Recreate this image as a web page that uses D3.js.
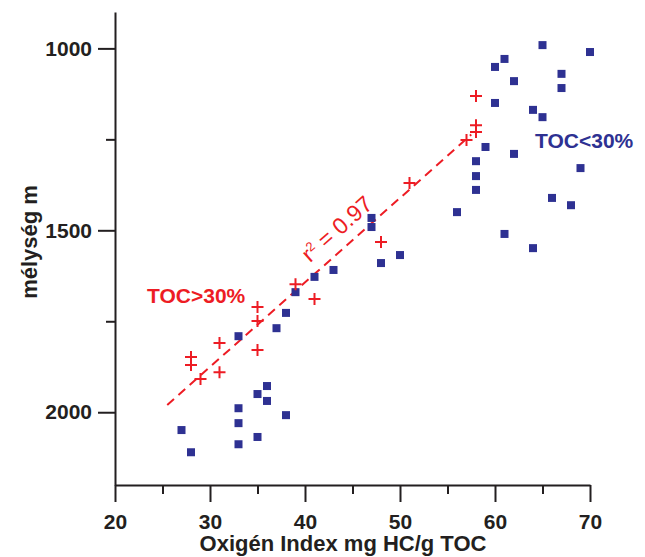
<!DOCTYPE html>
<html>
<head>
<meta charset="utf-8">
<script src="https://cdn.jsdelivr.net/npm/d3@7"></script>
<style>
  body { margin: 0; background: #fff; }
  text { font-family: "Liberation Sans", Arial, sans-serif; }
</style>
</head>
<body>
<div id="my_dataviz"></div>
<script>
// TOC<30% samples (blue squares)
var lowOxi   = [70, 65, 61, 60, 67, 62, 67, 60, 64, 65, 59, 62, 58, 69, 58, 58, 66, 68, 56, 61, 64,
                47, 47, 41, 43, 48, 50, 39, 38, 37, 33,
                36, 35, 36, 33, 38, 33, 27, 35, 33, 28];
var lowDepth = [1010, 991, 1029, 1051, 1070, 1090, 1109, 1150, 1169, 1189, 1271, 1290, 1310, 1329, 1351, 1389, 1411, 1431, 1450, 1510, 1549,
                1466, 1491, 1628, 1609, 1590, 1568, 1670, 1727, 1769, 1791,
                1928, 1950, 1969, 1989, 2008, 2030, 2049, 2068, 2088, 2110];

// TOC>30% samples (red crosses)
var highOxi   = [58, 58, 58, 57, 51, 48, 39, 41, 35, 35, 35, 31, 31, 28, 28, 29];
var highDepth = [1131, 1211, 1230, 1252, 1370, 1532, 1648, 1689, 1711, 1749, 1829, 1810, 1890, 1848, 1870, 1909];

// regression line ends
var fitOxi   = [25.5, 57.5];
var fitDepth = [1980, 1237];

var xMajor = [20, 30, 40, 50, 60, 70];
var xMinor = [25, 35, 45, 55, 65];
var yMajor = [1000, 1500, 2000];
var yMinor = [1250, 1750];

var blue = "#2e3192", red = "#ed1c24", ink = "#231f20";

var W = 645, H = 557;
var plotL = 115, plotR = 590, plotT = 12, plotB = 485;

var svg = d3.select("#my_dataviz")
  .append("svg")
    .attr("width", W)
    .attr("height", H);

var x = d3.scaleLinear().domain([20, 70]).range([plotL, plotR]);
var y = d3.scaleLinear().domain([900, 2200]).range([plotT, plotB]);

// axes
var gx = svg.append("g")
  .attr("transform", "translate(0," + plotB + ")")
  .call(d3.axisBottom(x).tickValues(xMajor).tickSize(17).tickSizeOuter(0).tickPadding(12));
gx.append("g")
  .call(d3.axisBottom(x).tickValues(xMinor).tickSize(9).tickFormat(""))
  .select(".domain").remove();

var gy = svg.append("g")
  .attr("transform", "translate(" + plotL + ",0)")
  .call(d3.axisLeft(y).tickValues(yMajor).tickFormat(d3.format("d")).tickSize(17).tickSizeOuter(0).tickPadding(6));
gy.append("g")
  .call(d3.axisLeft(y).tickValues(yMinor).tickSize(9).tickFormat(""))
  .select(".domain").remove();

svg.selectAll(".domain, .tick line")
  .attr("stroke", ink)
  .attr("stroke-width", 2);
svg.selectAll(".tick text")
  .attr("fill", ink)
  .style("font-size", "21px")
  .style("font-weight", "bold");

// axis titles
svg.append("text")
  .attr("x", 343)
  .attr("y", 551)
  .attr("text-anchor", "middle")
  .attr("fill", ink)
  .style("font-size", "22px")
  .style("font-weight", "bold")
  .text("Oxigén Index mg HC/g TOC");

svg.append("text")
  .attr("transform", "translate(37,242)rotate(-90)")
  .attr("text-anchor", "middle")
  .attr("fill", ink)
  .style("font-size", "22px")
  .style("font-weight", "bold")
  .text("mélység m");

// regression line
var fit = fitOxi.map(function(d, i) { return [d, fitDepth[i]]; });
svg.append("path")
  .datum(fit)
  .attr("fill", "none")
  .attr("stroke", red)
  .attr("stroke-width", 2)
  .attr("stroke-dasharray", "9,6")
  .attr("d", d3.line()
    .x(function(d) { return x(d[0]); })
    .y(function(d) { return y(d[1]); }));

var ang = Math.atan2(y(fitDepth[1]) - y(fitDepth[0]), x(fitOxi[1]) - x(fitOxi[0])) * 180 / Math.PI;
var r2x = 41.3;
var r2y = fitDepth[0] + (r2x - fitOxi[0]) * (fitDepth[1] - fitDepth[0]) / (fitOxi[1] - fitOxi[0]);
var r2 = svg.append("text")
  .attr("transform", "translate(" + x(r2x) + "," + y(r2y) + ")rotate(" + ang + ")")
  .attr("dy", -11)
  .attr("fill", red)
  .style("font-size", "23px");
r2.append("tspan").text("r");
r2.append("tspan").attr("dy", -8).style("font-size", "13px").text("2");
r2.append("tspan").attr("dy", 8).text(" = 0.97");

// markers
var lowPts = lowOxi.map(function(d, i) { return {x: d, y: lowDepth[i]}; });
svg.selectAll("rect.low")
  .data(lowPts)
  .enter()
  .append("rect")
    .attr("class", "low")
    .attr("x", function(d) { return x(d.x) - 4; })
    .attr("y", function(d) { return y(d.y) - 4; })
    .attr("width", 8)
    .attr("height", 8)
    .attr("fill", blue);

var highPts = highOxi.map(function(d, i) { return {x: d, y: highDepth[i]}; });
svg.selectAll("path.high")
  .data(highPts)
  .enter()
  .append("path")
    .attr("class", "high")
    .attr("d", function(d) {
      var cx = x(d.x), cy = y(d.y);
      return "M" + (cx - 6) + "," + cy + "H" + (cx + 6) + "M" + cx + "," + (cy - 6) + "V" + (cy + 6);
    })
    .attr("stroke", red)
    .attr("stroke-width", 2)
    .attr("fill", "none");

// group labels
svg.append("text")
  .attr("x", 147)
  .attr("y", 303)
  .attr("fill", red)
  .style("font-size", "21px")
  .style("font-weight", "bold")
  .text("TOC>30%");

svg.append("text")
  .attr("x", 535)
  .attr("y", 148)
  .attr("fill", blue)
  .style("font-size", "21px")
  .style("font-weight", "bold")
  .text("TOC<30%");
</script>
</body>
</html>
